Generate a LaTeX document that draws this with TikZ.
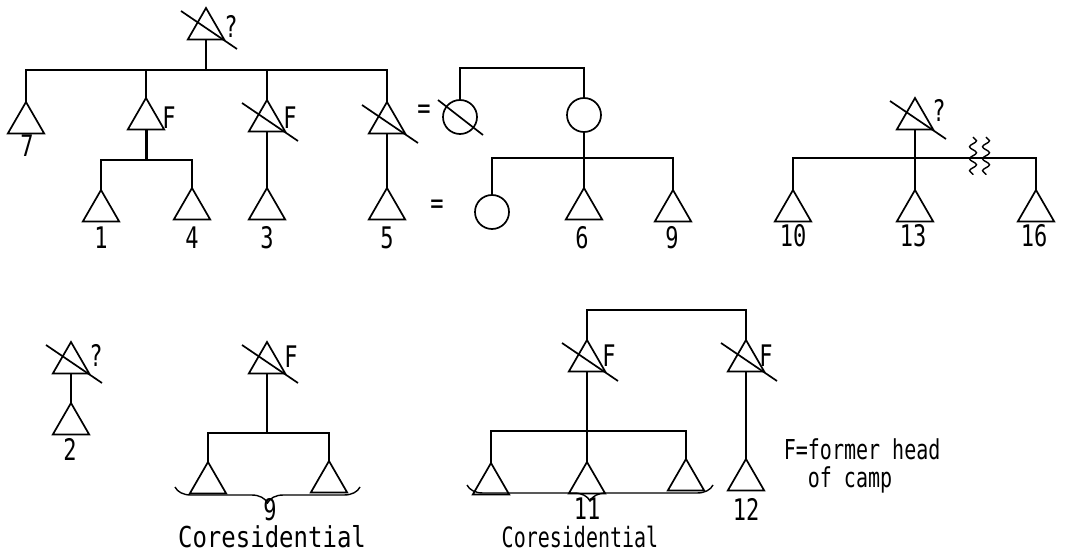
\documentclass[tikz,border=0pt]{standalone}
\usepackage{fontspec}
\usepackage{graphicx}
\newfontfamily\tw{DejaVu Sans Mono}
\usetikzlibrary{shapes.geometric,decorations.pathreplacing,decorations.pathmorphing}
\newcommand\lb[1]{\scalebox{1}[1.35]{#1}}
\newcommand\slashit[1]{\draw ([shift={(-25,3)}]#1.north) -- ([shift={(31,41)}]#1.north);}
\begin{document}
\begin{tikzpicture}[x=1pt,y=-1pt,line width=1.7pt,
  tri/.style={regular polygon, regular polygon sides=3, draw, minimum size=42pt, inner sep=0pt, outer sep=0pt, anchor=north},
  circ/.style={circle, draw, minimum size=34pt, inner sep=0pt, outer sep=0pt},
  lab/.style={font=\tw\fontsize{22}{22}\selectfont, inner sep=0pt},
  leg/.style={font=\tw\fontsize{20}{20}\selectfont, inner sep=0pt},
  heavy/.style={line width=3pt},
  wavy/.style={line width=1.4pt, decorate, decoration={snake, amplitude=3.5pt, segment length=12pt}},
  bracedown/.style={line width=1.4pt, decorate, decoration={brace, mirror, amplitude=16pt}}]
\useasboundingbox (0,0) rectangle (1069,553);

% ---------- top-left family ----------
\node[tri] (r1) at (206,8) {};
\node[tri] (c7) at (26,102) {};
\node[tri] (cF1) at (146,98) {};
\node[tri] (cF2) at (267,100) {};
\node[tri] (c5f) at (387,102) {};
\node[circ] (w1) at (460,117) {};
\node[circ] (w2) at (584,115) {};
\node[tri] (g1) at (101,190) {};
\node[tri] (g4) at (192,188) {};
\node[tri] (g3) at (267,188) {};
\node[tri] (g5) at (387,188) {};
\node[circ] (dd) at (492,212) {};
\node[tri] (g6) at (584,188) {};
\node[tri] (g9) at (673,190) {};

\slashit{r1}
\slashit{cF2}
\slashit{c5f}
\draw ([shift={(-22,-17)}]w1.center) -- ([shift={(23,18)}]w1.center);

\node[lab] (q1) at (231,26) {\lb{?}};
\node[lab] (f1) at (169,118) {\lb{F}};
\node[lab] (f2) at (290,118) {\lb{F}};
\node[lab] (eq1) at (424,112) {\lb{=}};
\node[lab] (eq2) at (437,207) {\lb{=}};
\node[lab] (l7) at (27,146) {\lb{7}};
\node[lab] (l1) at (101,238) {\lb{1}};
\node[lab] (l4) at (192,238) {\lb{4}};
\node[lab] (l3) at (267,238) {\lb{3}};
\node[lab] (l5) at (387,238) {\lb{5}};
\node[lab] (l6) at (582,238) {\lb{6}};
\node[lab] (l9) at (672,238) {\lb{9}};

\coordinate (bar1) at (0,70);
\draw (r1.south) -- (r1.south |- bar1);
\draw (c7.north) -- (c7.north |- bar1) -- (c5f.north |- bar1) -- (c5f.north);
\draw (cF1.north) -- (cF1.north |- bar1);
\draw (cF2.north) -- (cF2.north |- bar1);
\coordinate (bar2) at (0,160);
\draw[heavy] (cF1.south) -- (cF1.south |- bar2);
\draw (g1.north) -- (g1.north |- bar2) -- (g4.north |- bar2) -- (g4.north);
\draw (cF2.south) -- (g3.north);
\draw (c5f.south) -- (g5.north);
\coordinate (bar3) at (0,68);
\draw (w1.north) -- (w1.north |- bar3) -- (w2.north |- bar3) -- (w2.north);
\coordinate (bar4) at (0,158);
\draw (w2.south) -- (w2.south |- bar4);
\draw (dd.north) -- (dd.north |- bar4) -- (g9.north |- bar4) -- (g9.north);
\draw (g6.north) -- (g6.north |- bar4);

% ---------- top-right family ----------
\node[tri] (r2) at (915,98) {};
\node[tri] (g10) at (793,190) {};
\node[tri] (g13) at (915,190) {};
\node[tri] (g16) at (1036,190) {};
\slashit{r2}
\node[lab] (q2) at (939,110) {\lb{?}};
\node[lab] (l10) at (793,236) {\lb{10}};
\node[lab] (l13) at (913,236) {\lb{13}};
\node[lab] (l16) at (1034,236) {\lb{16}};
\coordinate (bar5) at (0,158);
\draw (r2.south) -- (r2.south |- bar5);
\draw (g10.north) -- (g10.north |- bar5) -- (g16.north |- bar5) -- (g16.north);
\draw (g13.north) -- (g13.north |- bar5);
\coordinate (wv1a) at (973,137); \coordinate (wv1b) at (973,175);
\coordinate (wv2a) at (986,137); \coordinate (wv2b) at (986,175);
\draw[wavy] (wv1a) -- (wv1b);
\draw[wavy] (wv2a) -- (wv2b);

% ---------- bottom-left ----------
\node[tri] (b1) at (71,342) {};
\node[tri] (g2) at (71,403) {};
\slashit{b1}
\node[lab] (q3) at (96,355) {\lb{?}};
\node[lab] (l2) at (70,449) {\lb{2}};
\draw (b1.south) -- (g2.north);

% ---------- bottom-middle ----------
\node[tri] (b2) at (267,342) {};
\node[tri] (h1) at (208,462) {};
\node[tri] (h2) at (329,461) {};
\slashit{b2}
\node[lab] (f3) at (291,357) {\lb{F}};
\coordinate (bar6) at (0,433);
\draw (b2.south) -- (b2.south |- bar6);
\draw (h1.north) -- (h1.north |- bar6) -- (h2.north |- bar6) -- (h2.north);
\coordinate (br1a) at (175,487); \coordinate (br1b) at (360,487);
\draw[bracedown] (br1a) -- (br1b);
\node[lab] (l9b) at (270,510) {\lb{9}};
\node[font=\tw\fontsize{24}{24}\selectfont, inner sep=0pt] (cor1) at (272,537) {\scalebox{1}[1.2]{Coresidential}};

% ---------- bottom-right ----------
\node[tri] (b3) at (587,340) {};
\node[tri] (b4) at (746,340) {};
\node[tri] (k1) at (491,463) {};
\node[tri] (k2) at (587,462) {};
\node[tri] (k3) at (686,459) {};
\node[tri] (g12) at (746,459) {};
\slashit{b3}
\slashit{b4}
\node[lab] (f4) at (609,356) {\lb{F}};
\node[lab] (f5) at (766,356) {\lb{F}};
\coordinate (bar7) at (0,310);
\draw (b3.north) -- (b3.north |- bar7) -- (b4.north |- bar7) -- (b4.north);
\coordinate (bar8) at (0,431);
\draw (b3.south) -- (b3.south |- bar8);
\draw (k1.north) -- (k1.north |- bar8) -- (k3.north |- bar8) -- (k3.north);
\draw (k2.north) -- (k2.north |- bar8);
\draw (b4.south) -- (g12.north);
\coordinate (br2a) at (467,485); \coordinate (br2b) at (713,485);
\draw[bracedown] (br2a) -- (br2b);
\node[lab] (l11) at (587,509) {\lb{11}};
\node[lab] (l12) at (746,509) {\lb{12}};
\node[font=\tw\fontsize{20}{20}\selectfont, inner sep=0pt] (cor2) at (580,537) {\scalebox{1}[1.4]{Coresidential}};

% ---------- legend ----------
\node[leg, anchor=base west] (lg1) at (783,460) {\scalebox{1}[1.37]{F=former head}};
\node[leg, anchor=base west] (lg2) at (807,487) {\scalebox{1}[1.37]{of camp}};
\end{tikzpicture}
\end{document}
